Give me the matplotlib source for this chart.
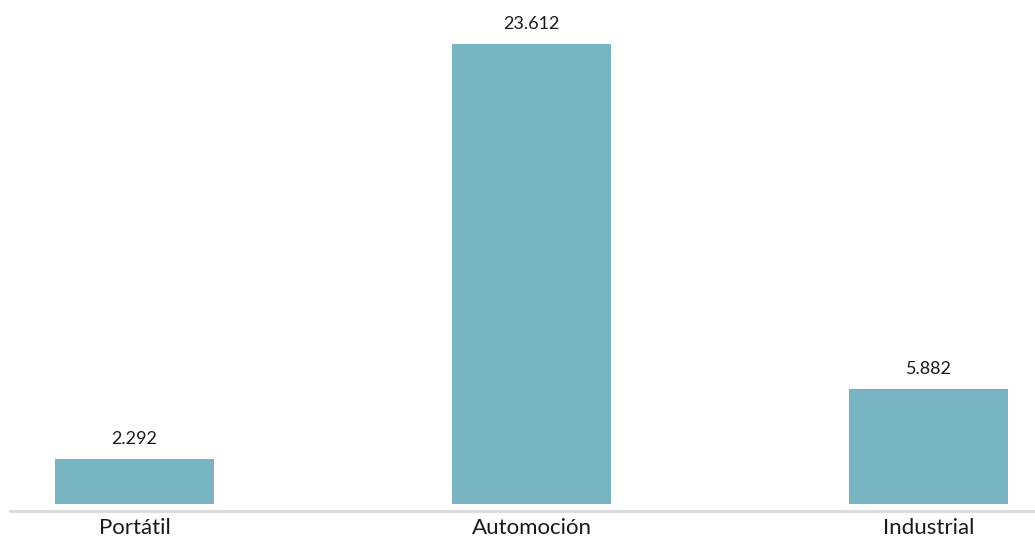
import matplotlib
matplotlib.use("Agg")
import matplotlib.pyplot as plt

categories = ["Portátil", "Automoción", "Industrial"]
values = [2.292, 23.612, 5.882]
value_labels = ["2.292", "23.612", "5.882"]

plt.rcParams['font.family'] = ['Lato', 'DejaVu Sans']

W, H = 1035, 538
fig = plt.figure(figsize=(W / 100, H / 100), dpi=100)
left_px, right_px = 10, 1035
bottom_px, top_px = 504, 10
ax = fig.add_axes([left_px / W, (H - bottom_px) / H,
                   (right_px - left_px) / W, (bottom_px - top_px) / H])

for s in ["top", "right", "left"]:
    ax.spines[s].set_visible(False)
ax.spines["bottom"].set_position(("outward", 5))
ax.spines["bottom"].set_color("#d9d9d9")
ax.spines["bottom"].set_linewidth(2)

x = list(range(len(categories)))
ax.bar(x, values, width=0.4, color="#79b4c2")
ax.set_xlim(-0.3136, 2.268)
ax.set_ylim(0, 25.36)

for xi, v, lab in zip(x, values, value_labels):
    ax.annotate(lab, (xi, v), xytext=(0, 9), textcoords="offset points",
                ha="center", va="bottom", fontsize=13, color="#1a1a1a")

ax.set_xticks(x)
ax.set_xticklabels(categories)
ax.tick_params(axis="x", length=0, pad=5, labelsize=16, labelcolor="#1a1a1a")
ax.set_yticks([])

fig.savefig("out.png", dpi=100)
